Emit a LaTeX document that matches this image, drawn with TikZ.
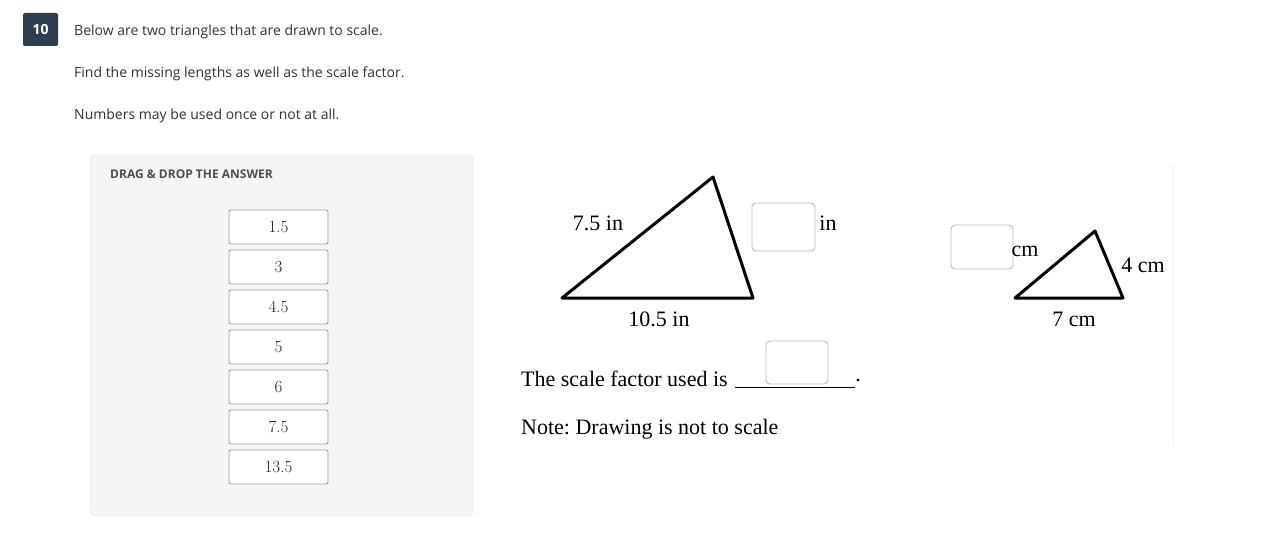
\documentclass[tikz,border=0pt]{standalone}
\usepackage{fontspec}
\newfontfamily\osans{Open Sans}
\newfontfamily\tserif{Liberation Serif}
\definecolor{badge}{HTML}{2E3E4E}
\definecolor{bodytxt}{HTML}{333333}
\definecolor{panelfill}{HTML}{F5F5F5}
\definecolor{panelline}{HTML}{DDDDDD}
\definecolor{boxline}{HTML}{9E9E9E}
\definecolor{slotline}{HTML}{BBBBBB}
\definecolor{headtxt}{HTML}{4A4F5A}
\tikzset{
  body/.style={anchor=west, inner sep=0pt, text=bodytxt, font=\osans\fontsize{14}{16}\selectfont},
  ans/.style={draw=boxline, line width=0.9pt, fill=white, rounded corners=2pt, minimum width=99, minimum height=34, inner sep=0pt, text=black!85, font=\fontsize{17}{19}\selectfont},
  slot/.style={draw=slotline, line width=0.9pt, fill=white, rounded corners=4pt, inner sep=0pt},
  lbl/.style={inner sep=0pt, font=\tserif\fontsize{22}{25}\selectfont\frenchspacing},
  tri/.style={line width=3pt, line join=round},
}
\begin{document}
\begin{tikzpicture}[x=1pt,y=-1pt]
\useasboundingbox (0,0) rectangle (1273,548);
\fill[white] (0,0) rectangle (1273,548);
% header
\node[fill=badge, rounded corners=2pt, minimum width=35, minimum height=33, inner sep=0pt, text=white, font=\osans\bfseries\fontsize{14}{16}\selectfont] (badge) at (40.5,29.5) {10};
\node[body] (l1) at (74,31.5) {Below are two triangles that are drawn to scale.};
\node[body] (l2) at (74,73.5) {Find the missing lengths as well as the scale factor.};
\node[body] (l3) at (74,115.5) {Numbers may be used once or not at all.};
% panel
\draw[panelline, fill=panelfill, rounded corners=6pt] (90,155) rectangle (473,516);
\node[anchor=west, inner sep=0pt, text=headtxt, font=\osans\bfseries\fontsize{12}{14}\selectfont] (head) at (110,174) {DRAG \& DROP THE ANSWER};
\node[ans] (a1) at (278.5,227) {1.5};
\node[ans] (a2) at (278.5,267) {3};
\node[ans] (a3) at (278.5,307) {4.5};
\node[ans] (a4) at (278.5,347) {5};
\node[ans] (a5) at (278.5,387) {6};
\node[ans] (a6) at (278.5,427) {7.5};
\node[ans] (a7) at (278.5,467) {13.5};
% big triangle
\coordinate (P1) at (562,298);
\coordinate (P2) at (713,177);
\coordinate (P3) at (753,298);
\draw[tri] (P1) -- (P2) -- (P3) -- cycle;
\node[lbl] (s1) at (598,223) {7.5 in};
\node[lbl] (s2) at (659,319) {10.5 in};
\node[slot, minimum width=63, minimum height=48] (b1) at (783.5,227) {};
\node[lbl] (s3) at (828,223) {in};
% sentence
\node[lbl, anchor=west] (sent) at (521,379) {The scale factor used is};
\coordinate (u1) at (735,387);
\coordinate (u2) at (855,387);
\draw[line width=1pt] (u1) -- (u2);
\node[lbl] (dot) at (858,381) {.};
\node[slot, minimum width=62, minimum height=43] (b2) at (797,362.5) {};
\node[lbl, anchor=west] (note) at (521,429) {Note: Drawing is not to scale};
% small triangle
\coordinate (Q1) at (1015,298);
\coordinate (Q2) at (1095,231);
\coordinate (Q3) at (1123,298);
\draw[tri] (Q1) -- (Q2) -- (Q3) -- cycle;
\node[slot, minimum width=62, minimum height=44] (b3) at (982,247) {};
\node[lbl] (t1) at (1025,251) {cm};
\node[lbl] (t2) at (1143,265) {4 cm};
\node[lbl] (t3) at (1074,319) {7 cm};
% faint edge
\coordinate (e1) at (1173,165);
\coordinate (e2) at (1173,445);
\draw[black!6, line width=1pt] (e1) -- (e2);
\end{tikzpicture}
\end{document}
